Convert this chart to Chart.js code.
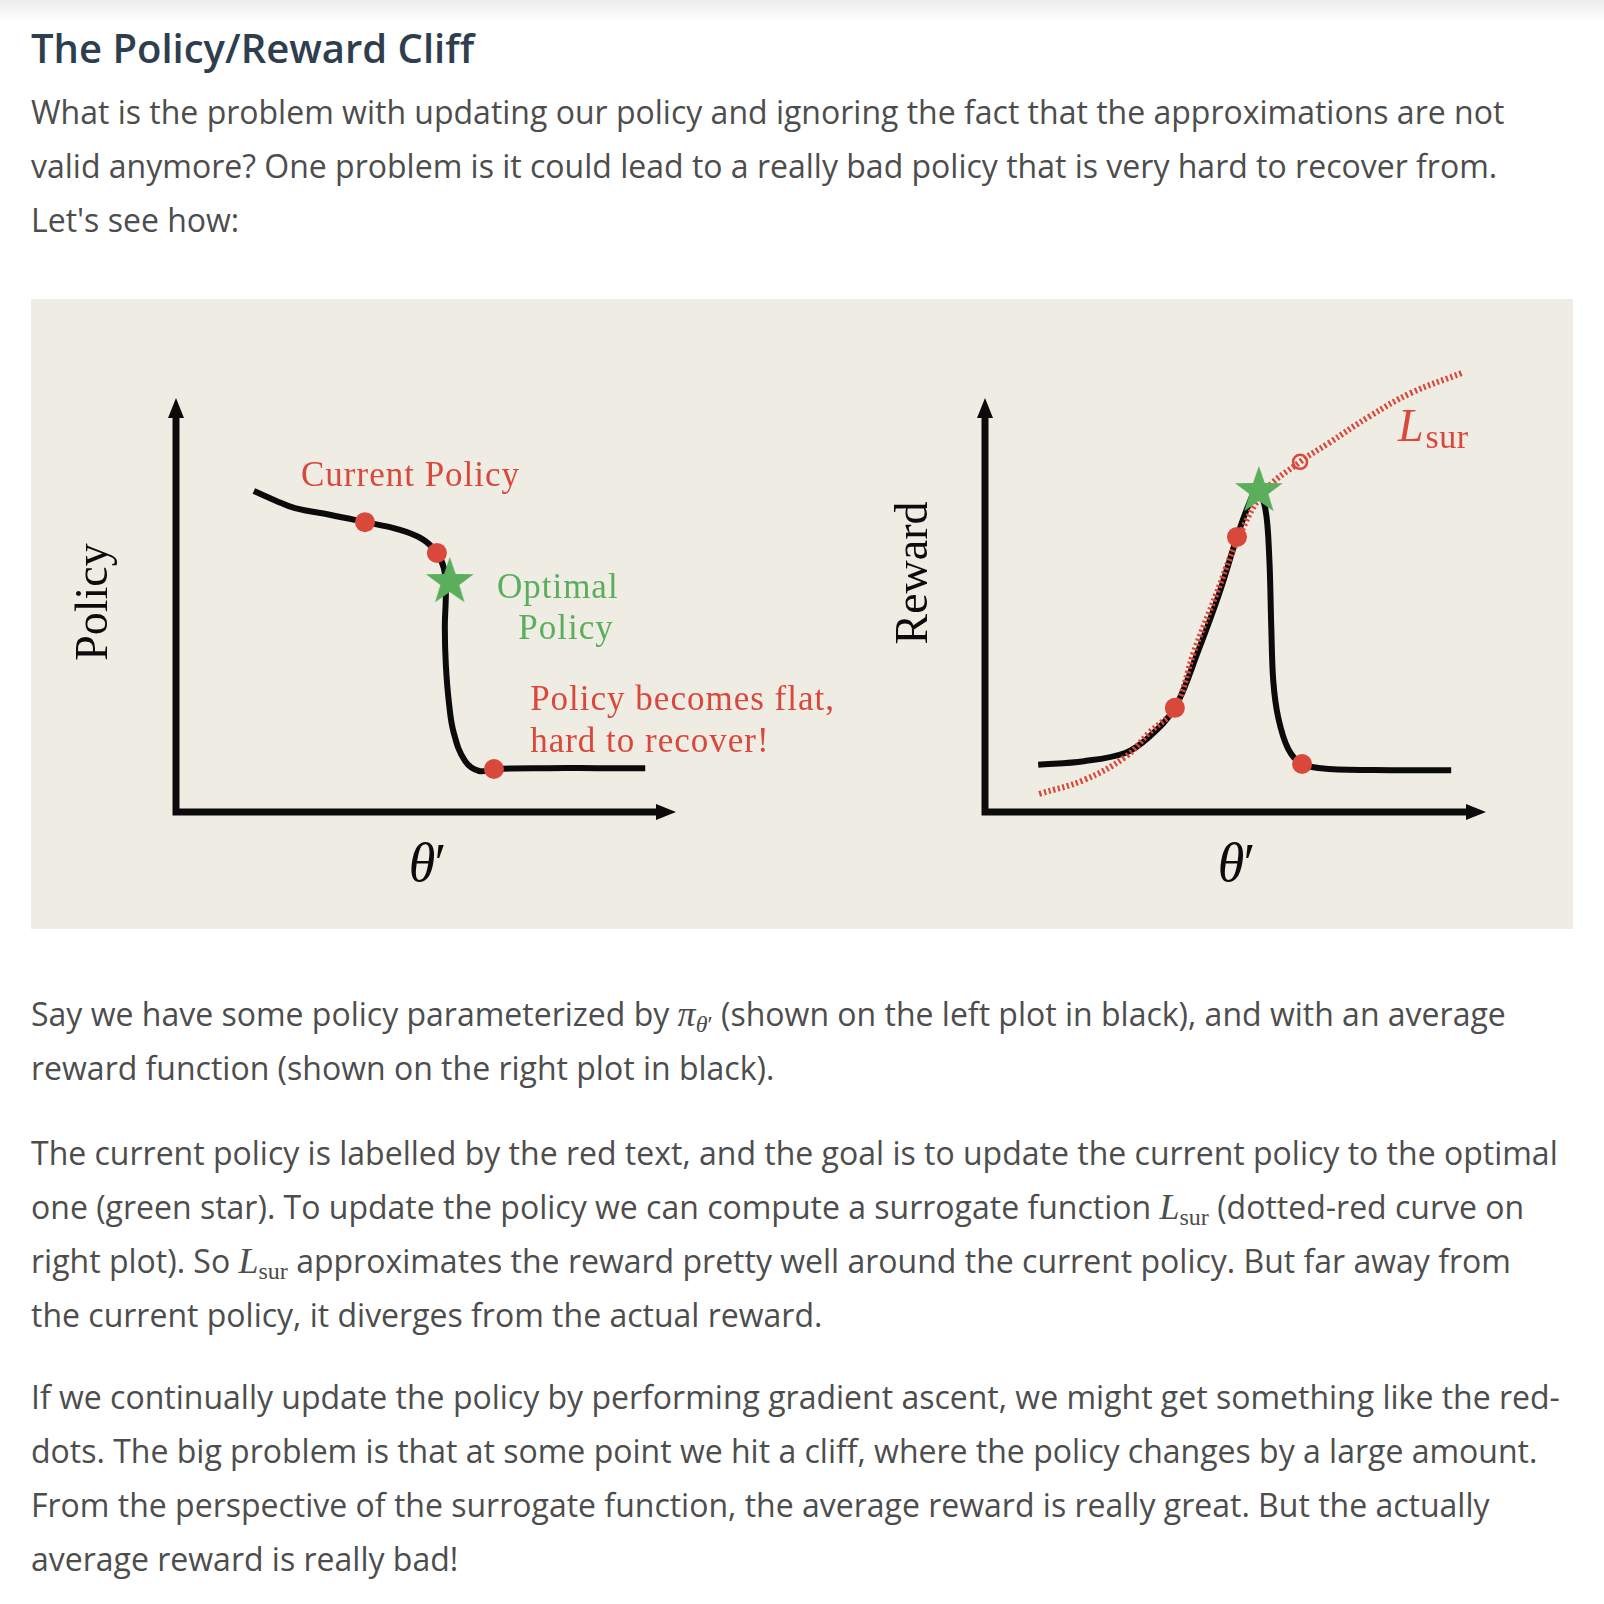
<!DOCTYPE html>
<html>
<head>
<meta charset="utf-8">
<script src="https://cdn.jsdelivr.net/npm/chart.js@4/dist/chart.umd.min.js"></script>
<style>
  html, body { margin: 0; padding: 0; background: #fff; }
  body { width: 1604px; height: 1604px; position: relative; overflow: hidden;
         font-family: "Open Sans", sans-serif; color: #4d4d4d; }
  .topfade { position: absolute; left: 0; top: 0; width: 1604px; height: 22px;
             background: linear-gradient(#ececec, #fff); }
  h2 { position: absolute; left: 31px; top: 28px; margin: 0; font-size: 40px; line-height: 40px;
       font-weight: 600; color: #2f3e4e; }
  p { position: absolute; left: 31px; margin: 0; font-size: 32px; line-height: 54px; white-space: nowrap; }
  .m { font-family: "Liberation Serif", serif; font-style: italic; font-size: 36px; line-height: 0; }
  .m sub { font-style: normal; font-size: 24px; vertical-align: -6px; line-height: 0; }
  .m sub i { font-style: italic; }
  .fig { position: absolute; left: 31px; top: 299px; width: 1542px; height: 630px; background: #efece4; }
  .fig canvas { position: absolute; top: 0; }
</style>
</head>
<body>
<div class="topfade"></div>
<h2>The Policy/Reward Cliff</h2>
<p style="top:85px">What is the problem with updating our policy and ignoring the fact that the approximations are not<br>valid anymore? One problem is it could lead to a really bad policy that is very hard to recover from.<br>Let's see how:</p>

<div class="fig">
  <canvas id="rewardChart" width="771" height="630" style="left:771px"></canvas>
  <canvas id="policyChart" width="900" height="630" style="left:0"></canvas>
</div>

<p style="top:987px">Say we have some policy parameterized by <span class="m">π<sub><i>θ</i>′</sub></span> (shown on the left plot in black), and with an average<br>reward function (shown on the right plot in black).</p>
<p style="top:1126px">The current policy is labelled by the red text, and the goal is to update the current policy to the optimal<br>one (green star). To update the policy we can compute a surrogate function <span class="m">L<sub>sur</sub></span> (dotted-red curve on<br>right plot). So <span class="m">L<sub>sur</sub></span> approximates the reward pretty well around the current policy. But far away from<br>the current policy, it diverges from the actual reward.</p>
<p style="top:1370px">If we continually update the policy by performing gradient ascent, we might get something like the red-<br>dots. The big problem is that at some point we hit a cliff, where the policy changes by a large amount.<br>From the perspective of the surrogate function, the average reward is really great. But the actually<br>average reward is really bad!</p>

<script>
// values, theta' on x (0..10), policy / reward on y (0..10)
const policyX = [1.57, 2.0, 2.4, 3.1, 3.81, 4.46, 4.96, 5.26, 5.40, 5.44, 5.42, 5.44, 5.50, 5.60, 5.83, 6.11, 6.41, 7.5, 8.5, 9.46];
const policyY = [7.83, 7.60, 7.41, 7.25, 7.07, 6.90, 6.66, 6.32, 5.95, 5.40, 4.51, 3.60, 2.70, 1.93, 1.24, 1.00, 1.05, 1.07, 1.07, 1.07];
const policyDotsX = [3.81, 5.26, 6.41];
const policyDotsY = [7.07, 6.32, 1.05];
const policyStar = [{ x: 5.52, y: 5.61 }];

const rewardX = [1.07, 1.99, 2.82, 3.30, 3.82, 4.29, 4.71, 5.07, 5.31, 5.47, 5.64, 5.72, 5.76, 5.80, 5.90, 6.10, 6.38, 6.92, 8.15, 9.38];
const rewardY = [1.15, 1.24, 1.44, 1.83, 2.54, 3.93, 5.32, 6.71, 7.51, 7.85, 7.40, 6.20, 4.51, 3.20, 2.30, 1.54, 1.17, 1.05, 1.02, 1.02];
const rewardDotsX = [3.82, 5.07, 6.38];
const rewardDotsY = [2.54, 6.71, 1.17];
const rewardStar = [{ x: 5.51, y: 7.83 }];

const surX = [1.09, 1.99, 2.82, 3.30, 3.82, 4.21, 4.65, 5.07, 5.61, 6.34, 6.92, 7.75, 8.57, 9.60];
const surY = [0.44, 0.78, 1.34, 1.93, 2.54, 3.93, 5.30, 6.60, 7.80, 8.54, 9.00, 9.66, 10.22, 10.71];
const surNext = [{ x: 6.34, y: 8.54 }];

const RED = "#d9483b";
const GREEN = "#5aae5c";
const SERIF = '"Liberation Serif", "DejaVu Serif", serif';

function pts(xs, ys) {
  return xs.map((x, i) => ({ x, y: ys[i] }));
}

// filled five point star used as point style
function makeStar(r, color) {
  const c = document.createElement("canvas");
  c.width = c.height = r * 2 + 2;
  const ctx = c.getContext("2d");
  ctx.fillStyle = color;
  ctx.beginPath();
  for (let i = 0; i < 10; i++) {
    const rad = i % 2 === 0 ? r : r * 0.4;
    const a = -Math.PI / 2 + i * Math.PI / 5;
    const px = r + 1 + rad * Math.cos(a);
    const py = r + 1 + rad * Math.sin(a);
    if (i === 0) ctx.moveTo(px, py); else ctx.lineTo(px, py);
  }
  ctx.closePath();
  ctx.fill();
  return c;
}
const starImg = makeStar(25, GREEN);

// black arrow axes + axis labels + annotations
const figPlugin = {
  id: "figPlugin",
  beforeDatasetsDraw(chart, args, opts) {
    const { ctx, chartArea: a } = chart;
    ctx.save();
    ctx.strokeStyle = "#0b0b0b";
    ctx.fillStyle = "#0b0b0b";
    ctx.lineWidth = 7;
    ctx.beginPath();
    ctx.moveTo(a.left, a.bottom + 3.5);
    ctx.lineTo(a.left, a.top + 12);
    ctx.moveTo(a.left - 3.5, a.bottom);
    ctx.lineTo(a.right - 12, a.bottom);
    ctx.stroke();
    ctx.beginPath();
    ctx.moveTo(a.left, a.top - 4);
    ctx.lineTo(a.left - 8, a.top + 16);
    ctx.lineTo(a.left + 8, a.top + 16);
    ctx.closePath();
    ctx.moveTo(a.right + 4, a.bottom);
    ctx.lineTo(a.right - 16, a.bottom - 8);
    ctx.lineTo(a.right - 16, a.bottom + 8);
    ctx.closePath();
    ctx.fill();

    // y label
    ctx.font = "46px " + SERIF;
    ctx.textAlign = "center";
    ctx.textBaseline = "middle";
    ctx.save();
    ctx.translate(opts.yLabelX, opts.yLabelY);
    ctx.rotate(-Math.PI / 2);
    ctx.fillText(opts.yLabel, 0, 0);
    ctx.restore();

    // x label theta'
    ctx.font = "italic 54px " + SERIF;
    ctx.textBaseline = "alphabetic";
    ctx.letterSpacing = "-4px";
    ctx.fillText("θ′", opts.xLabelX, 582);
    ctx.letterSpacing = "0px";

    const xs = chart.scales.x, ys = chart.scales.y;
    ctx.textAlign = "left";
    opts.notes.forEach(n => {
      ctx.fillStyle = n.color;
      const px = xs.getPixelForValue(n.x), py = ys.getPixelForValue(n.y);
      if (n.sub) {
        ctx.font = "italic 46px " + SERIF;
        ctx.fillText(n.text, px, py);
        const w = ctx.measureText(n.text).width;
        ctx.font = "34px " + SERIF;
        ctx.letterSpacing = "0.5px";
        ctx.fillText(n.sub, px + w + 2, py + 7);
      } else {
        ctx.font = "35px " + SERIF;
        ctx.letterSpacing = "1px";
        ctx.fillText(n.text, px, py);
      }
      ctx.letterSpacing = "0px";
    });
    ctx.restore();
  }
};

function baseOptions(padLeft, padRight, label) {
  return {
    responsive: false,
    animation: false,
    layout: { padding: { left: padLeft, right: padRight, top: 103, bottom: 117 } },
    scales: {
      x: { type: "linear", min: 0, max: 10, display: false },
      y: { type: "linear", min: 0, max: 10, display: false }
    },
    plugins: { legend: { display: false }, tooltip: { enabled: false }, figPlugin: label }
  };
}

new Chart(document.getElementById("policyChart"), {
  type: "scatter",
  data: {
    datasets: [
      { data: policyStar, pointStyle: starImg, order: 0 },
      { data: pts(policyDotsX, policyDotsY), pointRadius: 10, backgroundColor: RED, borderWidth: 0, order: 1 },
      { data: pts(policyX, policyY), showLine: true, borderColor: "#0b0b0b", borderWidth: 6,
        tension: 0.4, pointRadius: 0, order: 3 }
    ]
  },
  options: baseOptions(145, 259, {
    yLabel: "Policy", yLabelX: 64, yLabelY: 303, xLabelX: 393,
    notes: [
      { text: "Current Policy", x: 2.52, y: 7.95, color: RED },
      { text: "Optimal", x: 6.47, y: 5.22, color: GREEN },
      { text: "Policy", x: 6.90, y: 4.22, color: GREEN },
      { text: "Policy becomes flat,", x: 7.14, y: 2.49, color: RED },
      { text: "hard to recover!", x: 7.14, y: 1.46, color: RED }
    ]
  }),
  plugins: [figPlugin]
});

new Chart(document.getElementById("rewardChart"), {
  type: "scatter",
  data: {
    datasets: [
      { data: rewardStar, pointStyle: starImg, order: 0 },
      { data: pts(rewardDotsX, rewardDotsY), pointRadius: 10, backgroundColor: RED, borderWidth: 0, order: 1 },
      { data: surNext, pointRadius: 7, backgroundColor: "rgba(0,0,0,0)", borderColor: RED, borderWidth: 2.5, order: 1 },
      { data: pts(surX, surY), showLine: true, borderColor: RED, borderWidth: 6, borderDash: [2.2, 2.6],
        tension: 0.4, pointRadius: 0, clip: false, order: 2 },
      { data: pts(rewardX, rewardY), showLine: true, borderColor: "#0b0b0b", borderWidth: 6,
        tension: 0.35, pointRadius: 0, order: 3 }
    ]
  },
  options: baseOptions(183, 91, {
    yLabel: "Reward", yLabelX: 113, yLabelY: 274, xLabelX: 431,
    notes: [
      { text: "L", sub: "sur", x: 8.31, y: 9.05, color: RED }
    ]
  }),
  plugins: [figPlugin]
});
</script>
</body>
</html>
